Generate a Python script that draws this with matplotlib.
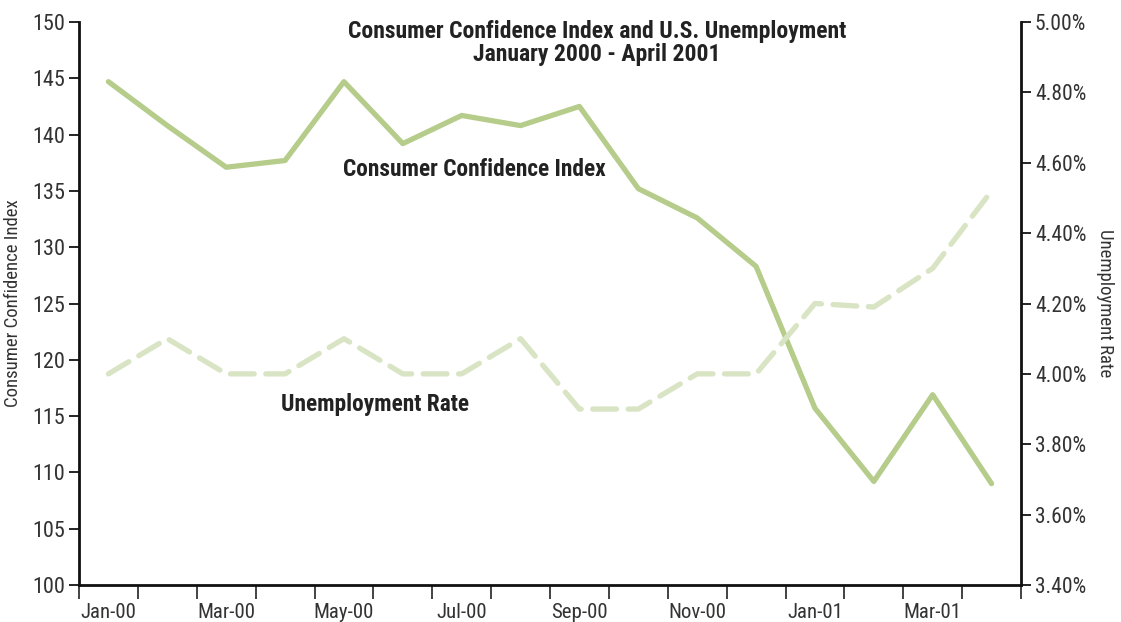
import numpy as np
import matplotlib.pyplot as plt
from matplotlib.ticker import FixedLocator, FuncFormatter

plt.rcParams['font.family'] = ['Roboto Condensed', 'Fira Sans Condensed', 'DejaVu Sans']

months = ['Jan-00', 'Feb-00', 'Mar-00', 'Apr-00', 'May-00', 'Jun-00', 'Jul-00', 'Aug-00',
          'Sep-00', 'Oct-00', 'Nov-00', 'Dec-00', 'Jan-01', 'Feb-01', 'Mar-01', 'Apr-01']
confidence = [144.7, 140.8, 137.1, 137.7, 144.7, 139.2, 141.7, 140.8,
              142.5, 135.2, 132.6, 128.3, 115.7, 109.2, 116.9, 109.0]
unemployment = [4.0, 4.1, 4.0, 4.0, 4.1, 4.0, 4.0, 4.1,
                3.9, 3.9, 4.0, 4.0, 4.2, 4.19, 4.3, 4.52]

x = np.arange(len(months))

fig = plt.figure(figsize=(11.21, 6.22), dpi=100)
ax = fig.add_axes([79 / 1121, 1 - 585 / 622, (1021 - 79) / 1121, (585 - 22) / 622])
ax2 = ax.twinx()

ax.plot(x, confidence, color='#b5cc8b', lw=3.8, solid_capstyle='round',
        solid_joinstyle='round', zorder=3)
ax2.plot(x, unemployment, color='#d8e4c3', lw=3.8, dashes=(4.5, 2.2),
         dash_capstyle='round', zorder=2)

ax.set_xlim(-0.5, len(months) - 0.5)
ax.set_ylim(100, 150)
ax.set_yticks(np.arange(100, 151, 5))
ax2.set_ylim(3.4, 5.0)
ax2.set_yticks(np.arange(3.4, 5.01, 0.2))
ax2.yaxis.set_major_formatter(FuncFormatter(lambda v, p: f'{v:.2f}%'))

# tick marks between months, labels on every other month
ax.xaxis.set_major_locator(FixedLocator(np.arange(-0.5, len(months), 1)))
ax.set_xticklabels([])
ax.xaxis.set_minor_locator(FixedLocator(x[::2]))
ax.set_xticklabels(months[::2], minor=True)
ax.tick_params(axis='x', which='major', length=10, width=1.2, color='#222222')
ax.tick_params(axis='x', which='minor', length=0, pad=13, labelsize=15, labelcolor='#333333')
ax.tick_params(axis='y', length=7, width=1.2, labelsize=16, labelcolor='#333333', pad=3)
ax2.tick_params(axis='y', length=7, width=1.2, labelsize=15.5, labelcolor='#333333', pad=3)

for a in (ax, ax2):
    a.spines['top'].set_visible(False)
    for s in ('left', 'right', 'bottom'):
        a.spines[s].set_linewidth(2)
        a.spines[s].set_color('#111111')
ax.spines['right'].set_visible(False)
ax2.spines['left'].set_visible(False)
ax2.spines['bottom'].set_visible(False)

ax.set_ylabel('Consumer Confidence Index', fontsize=13.5, color='#333333', labelpad=7)
ax2.set_ylabel('Unemployment Rate', fontsize=13.5, color='#333333', rotation=270, labelpad=20)

fig.text(597 / 1121, 1 - 43 / 622,
         'Consumer Confidence Index and U.S. Unemployment\nJanuary 2000 - April 2001',
         ha='center', va='center', fontsize=17, fontweight='bold', color='#222222',
         linespacing=1.0)
ax.text(6.22, 136.9, 'Consumer Confidence Index', ha='center', va='center',
        fontsize=16.8, fontweight='bold', color='#222222')
ax.text(4.53, 116.0, 'Unemployment Rate', ha='center', va='center',
        fontsize=16.8, fontweight='bold', color='#222222')

fig.savefig('out.png', dpi=100)
